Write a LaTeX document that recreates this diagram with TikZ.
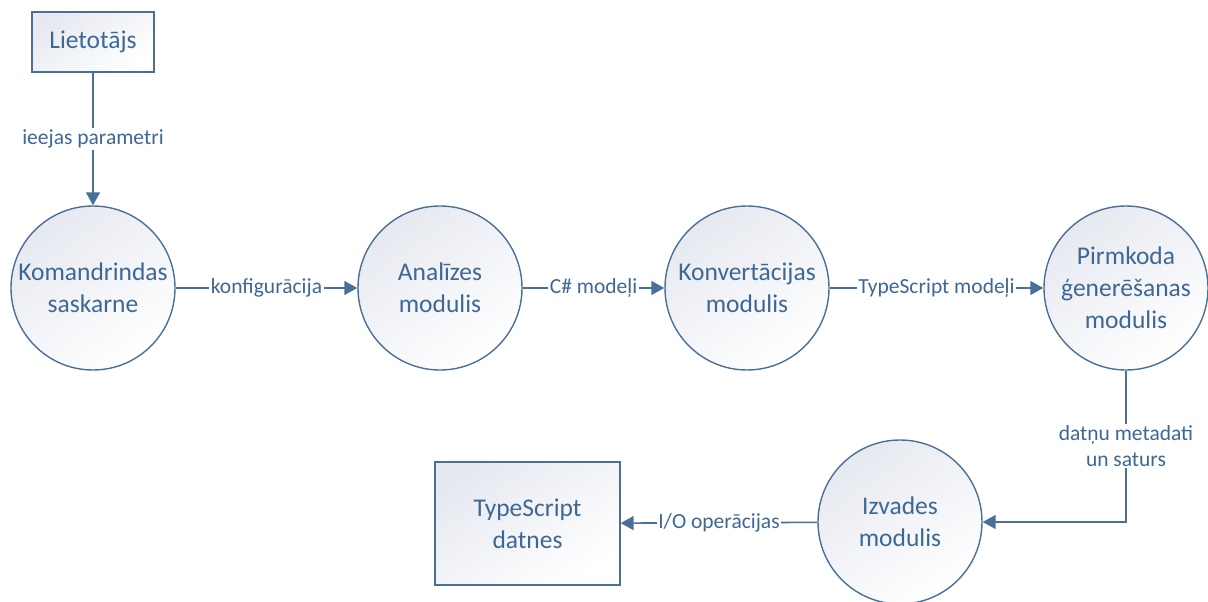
\documentclass[tikz,border=0pt]{standalone}
\usepackage{fontspec}
\setmainfont{Carlito}
\usetikzlibrary{arrows.meta}
\definecolor{edgeblue}{HTML}{4A7099}
\definecolor{textblue}{HTML}{3E6894}
\definecolor{shadeA}{HTML}{E6E9F0}
\begin{document}
\begin{tikzpicture}[x=1pt,y=-1pt,
  every node/.style={text=textblue},
  proc/.style={circle, draw=edgeblue, line width=1.4pt, minimum size=164pt,
    inner sep=0pt, align=center, top color=shadeA, bottom color=white,
    shading angle=35, font=\fontsize{25.5}{32}\selectfont},
  ext/.style={rectangle, draw=edgeblue, line width=1.4pt, align=center,
    inner sep=0pt, top color=shadeA, bottom color=white, shading angle=35,
    font=\fontsize{25.5}{32}\selectfont},
  flow/.style={draw=edgeblue, line width=1.6pt,
    -{Triangle[length=13pt,width=14pt]}},
  lbl/.style={fill=white, inner sep=1.5pt, align=center,
    font=\fontsize{21.5}{26}\selectfont}]
  \useasboundingbox (0,0) rectangle (1208,602);

  % external entities
  \node[ext, minimum width=122pt, minimum height=60pt] (usr) at (93,42) {Lietotājs};
  \node[ext, minimum width=185pt, minimum height=123pt] (files) at (527.5,523.5) {TypeScript\\datnes};

  % processes
  \node[proc] (cli)  at (93,288)   {Komandrindas\\saskarne};
  \node[proc] (ana)  at (440,288)  {Analīzes\\modulis};
  \node[proc] (conv) at (747,288)  {Konvertācijas\\modulis};
  \node[proc] (gen)  at (1126,288) {Pirmkoda\\ģenerēšanas\\modulis};
  \node[proc] (out)  at (900,522)  {Izvades\\modulis};

  % data flows
  \draw[flow] (usr) -- node[lbl] {ieejas parametri} (cli);
  \draw[flow] (cli) -- node[lbl] {konfigurācija} (ana);
  \draw[flow] (ana) -- node[lbl] {C\# modeļi} (conv);
  \draw[flow] (conv) -- node[lbl] {TypeScript modeļi} (gen);
  \draw[flow] (gen.south) |- node[lbl, pos=0.25] {datņu metadati\\un saturs} (out.east);
  \draw[flow] (out) -- node[lbl] {I/O operācijas} (files);
\end{tikzpicture}
\end{document}
